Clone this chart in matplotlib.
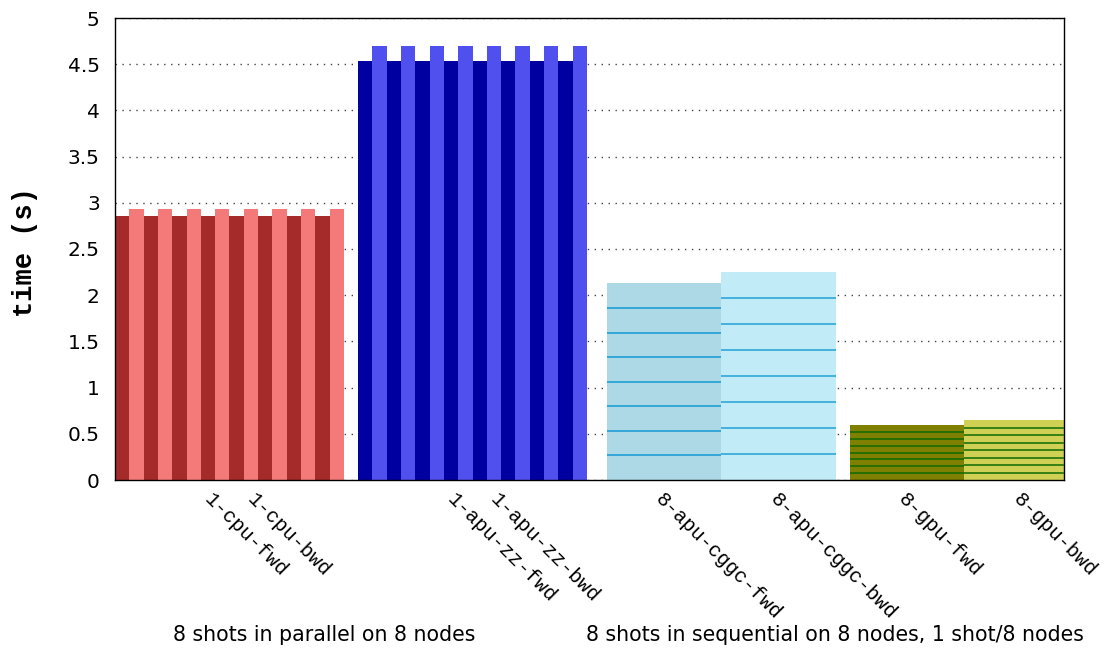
import matplotlib
matplotlib.use("Agg")
import matplotlib.pyplot as plt
import numpy as np

# ---- data ----
cpu_fwd = [2.86, 2.86, 2.86, 2.86, 2.86, 2.86, 2.86, 2.86]
cpu_bwd = [2.93, 2.93, 2.93, 2.93, 2.93, 2.93, 2.93, 2.93]
apu_zz_fwd = [4.535, 4.535, 4.535, 4.535, 4.535, 4.535, 4.535, 4.535]
apu_zz_bwd = [4.70, 4.70, 4.70, 4.70, 4.70, 4.70, 4.70, 4.70]
apu_cggc_fwd = [0.266, 0.266, 0.266, 0.266, 0.266, 0.266, 0.266, 0.266]
apu_cggc_bwd = [0.281, 0.281, 0.281, 0.281, 0.281, 0.281, 0.281, 0.281]
gpu_fwd = [0.074, 0.074, 0.074, 0.074, 0.074, 0.074, 0.074, 0.074]
gpu_bwd = [0.081, 0.081, 0.081, 0.081, 0.081, 0.081, 0.081, 0.081]

tick_labels = ["1-cpu-fwd", "1-cpu-bwd", "1-apu-zz-fwd", "1-apu-zz-bwd",
               "8-apu-cggc-fwd", "8-apu-cggc-bwd", "8-gpu-fwd", "8-gpu-bwd"]
group_labels = ["8 shots in parallel on 8 nodes",
                "8 shots in sequential on 8 nodes, 1 shot/8 nodes"]
yticks = [0, 0.5, 1, 1.5, 2, 2.5, 3, 3.5, 4, 4.5, 5]
ytick_labels = ["0", "0.5", "1", "1.5", "2", "2.5", "3", "3.5", "4", "4.5", "5"]

fig = plt.figure(figsize=(11.1, 6.49), dpi=100)
ax = fig.add_axes([115/1110, 1-480/649, (1064-115)/1110, (480-18)/649])

# parallel groups: interleaved fwd/bwd bars
def paired(start, fwd, bwd, cf, cb):
    n = len(fwd)
    xs_f = start + 2*np.arange(n)
    xs_b = xs_f + 1
    ax.bar(xs_f, fwd, width=1.0, align="edge", color=cf, zorder=2, linewidth=0)
    ax.bar(xs_b, bwd, width=1.0, align="edge", color=cb, zorder=2, linewidth=0)

paired(0, cpu_fwd, cpu_bwd, "#a52a2a", "#f47a7a")
paired(17, apu_zz_fwd, apu_zz_bwd, "#0000a0", "#5050ee")

# sequential groups: stacked segments
def stacked(start, segs, fc, lc):
    bottoms = np.concatenate([[0], np.cumsum(segs)[:-1]])
    ax.bar([start]*len(segs), segs, bottom=bottoms, width=8.0, align="edge",
           color=fc, zorder=2, linewidth=0)
    ax.hlines(bottoms[1:], start, start+8.0, colors=lc, linewidth=1.3, zorder=3)

s3 = 34.4
stacked(s3, apu_cggc_fwd, "#add8e6", "#2aa3d6")
stacked(s3+8, apu_cggc_bwd, "#c2ebf8", "#3aaedb")
s4 = 51.4
stacked(s4, gpu_fwd, "#808000", "#1f6e00")
stacked(s4+8, gpu_bwd, "#d0d055", "#2a7a10")

ax.set_xlim(0, (1064-115)/14.3)
ax.set_ylim(0, 5)

tick_pos = [8-1.5+0.4, 8+1.5+0.4, 25-1.5+0.4, 25+1.5+0.4,
            s3+4.1, s3+12.1, s4+4.1, s4+12.1]
ax.set_xticks(tick_pos)
ax.set_xticklabels(tick_labels, rotation=-45, ha="left", va="top",
                   rotation_mode="anchor", family="Liberation Mono", fontsize=14.5)
ax.tick_params(axis="x", length=0, pad=7)
ax.set_yticks(yticks)
ax.set_yticklabels(ytick_labels, fontsize=14.5)
ax.tick_params(axis="y", length=0, pad=11)

ax.yaxis.grid(True, linestyle=(0, (1, 4)), color="#444444", linewidth=1.0, zorder=0)
ax.set_axisbelow(True)
for sp in ax.spines.values():
    sp.set_linewidth(1.0)
    sp.set_color("black")

fig.text(25/1110, 1-252/649, "time (s)", rotation=90, ha="center", va="center",
         family="Liberation Mono", fontweight="bold", fontsize=19.5)
fig.text(324/1110, 1-635/649, group_labels[0], ha="center", va="center", fontsize=14.8)
fig.text(835/1110, 1-635/649, group_labels[1], ha="center", va="center", fontsize=14.8)

fig.savefig("out.png", dpi=100)
